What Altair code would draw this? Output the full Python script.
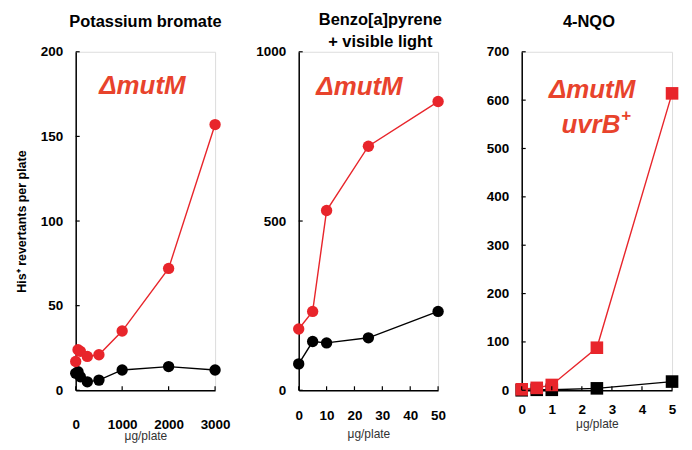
import altair as alt
import pandas as pd

# ---------------- data ----------------
# Panel 1: Potassium bromate
kbr_dose = [0, 50, 100, 250, 500, 1000, 2000, 3000]
kbr_mutM = [17, 24, 23, 20, 21, 35, 72, 157]
kbr_wt = [10, 11, 8, 5, 6, 12, 14, 12]

# Panel 2: Benzo[a]pyrene + visible light
bap_dose = [0, 5, 10, 25, 50]
bap_mutM = [181, 233, 531, 721, 853]
bap_wt = [78, 144, 140, 155, 233]

# Panel 3: 4-NQO
nqo_dose = [0, 0.5, 1, 2.5, 5]
nqo_mutM = [2, 5, 11, 88, 614]
nqo_wt = [0, 1, 1, 4, 18]

strains = ["wild type", "ΔmutM"]

kbr_xticks = [0, 1000, 2000, 3000]
kbr_yticks = [0, 50, 100, 150, 200]
bap_xticks = [0, 10, 20, 30, 40, 50]
bap_yticks = [0, 500, 1000]
nqo_xticks = [0, 1, 2, 3, 4, 5]
nqo_yticks = [0, 100, 200, 300, 400, 500, 600, 700]

titles = ["Potassium bromate", ["Benzo[a]pyrene", "+ visible light"], "4-NQO"]

RED = "#e8252b"
TXT_RED = "#e8432c"
FONT = "Liberation Sans"
W1, W2, W3, H = 140, 140, 151, 340


def long_df(dose, wt, mut):
    rows = []
    for d, v in zip(dose, wt):
        rows.append({"dose": d, "value": v, "strain": strains[0]})
    for d, v in zip(dose, mut):
        rows.append({"dose": d, "value": v, "strain": strains[1]})
    return pd.DataFrame(rows)


def panel(dose, wt, mut, xticks, yticks, title, width, shape, size,
          ytitle, title_offset, title_dx, notes, lab_pad, tit_pad):
    df = long_df(dose, wt, mut)
    xs = alt.Scale(domain=[xticks[0], xticks[-1]], nice=False)
    ys = alt.Scale(domain=[yticks[0], yticks[-1]], nice=False)
    xaxis = alt.Axis(values=xticks, ticks=False, grid=False, labelPadding=lab_pad,
                     format="d",
                     labelFont=FONT, labelFontWeight="bold", labelFontSize=13.5,
                     labelColor="black", domainColor="black", domainWidth=1.5,
                     title="μg/plate", titleFont=FONT, titleFontWeight="normal",
                     titleFontSize=12, titleColor="#333333", titlePadding=tit_pad,
                     labelFlush=False, labelOverlap=False)
    yaxis = alt.Axis(values=yticks, ticks=False, grid=False, labelPadding=13,
                     format="d",
                     labelFont=FONT, labelFontWeight="bold", labelFontSize=13.5,
                     labelColor="black", domainColor="black", domainWidth=1.5,
                     title=ytitle if ytitle else "", titleFont=FONT,
                     titleFontWeight="bold", titleFontSize=12.5, titleColor="black",
                     titlePadding=12, labelFlush=False, labelOverlap=False)
    color = alt.Color("strain:N", scale=alt.Scale(domain=strains, range=["black", RED]),
                      legend=None)
    base = alt.Chart(df).encode(
        x=alt.X("dose:Q", scale=xs, axis=xaxis),
        y=alt.Y("value:Q", scale=ys, axis=yaxis),
        color=color,
    )
    line = base.mark_line(strokeWidth=1.4)
    pts = base.mark_point(filled=True, shape=shape, size=size, opacity=1)

    xt = alt.Chart(pd.DataFrame({"dose": xticks})).mark_rule(
        color="black", strokeWidth=1.2).encode(
        x=alt.X("dose:Q", scale=xs, axis=xaxis),
        y=alt.value(H), y2=alt.value(H - 4))
    yt = alt.Chart(pd.DataFrame({"value": yticks})).mark_rule(
        color="black", strokeWidth=1.2).encode(
        y=alt.Y("value:Q", scale=ys, axis=yaxis),
        x=alt.value(0), x2=alt.value(4))

    layers = [line, pts, xt, yt]
    for (tx, nx, ny, fs, al) in notes:
        layers.append(
            alt.Chart(pd.DataFrame({"dose": [0]})).mark_text(
                font=FONT, fontWeight="bold", fontStyle="italic", fontSize=fs,
                color=TXT_RED, align=al, baseline="middle", text=tx
            ).encode(x=alt.X(datum=nx, scale=xs, axis=xaxis),
                     y=alt.Y(datum=ny, scale=ys, axis=yaxis))
        )
    return alt.layer(*layers).properties(
        width=width, height=H,
        title=alt.Title(title, font=FONT, fontSize=16.5, fontWeight="bold",
                        color="black", offset=title_offset, dx=title_dx,
                        lineHeight=22, anchor="middle"),
    )


p1 = panel(kbr_dose, kbr_wt, kbr_mutM, kbr_xticks, kbr_yticks, titles[0], W1,
           "circle", 130, "His⁺ revertants per plate", 14, 0,
           [("ΔmutM", 1436, 180, 26, "center")], 27, 0)
p2 = panel(bap_dose, bap_wt, bap_mutM, bap_xticks, bap_yticks, titles[1], W2,
           "circle", 130, None, -6, 12,
           [("ΔmutM", 21.8, 897, 26, "center")], 18, 7)
p3 = panel(nqo_dose, nqo_wt, nqo_mutM, nqo_xticks, nqo_yticks, titles[2], W3,
           "square", 160, None, 14, -8,
           [("ΔmutM", 2.34, 620, 26, "center"),
            ("uvrB", 3.28, 549, 26, "right"),
            ("+", 3.3, 568, 17, "left")], 12, 3)

chart = alt.hconcat(p1, p2, p3, spacing=84, bounds="flush").configure_view(
    strokeWidth=0).configure(background="white").properties(
    padding={"left": 6, "top": 3, "right": 5, "bottom": 5})

chart.save("out.html", embed_options={"renderer": "svg", "actions": False})
